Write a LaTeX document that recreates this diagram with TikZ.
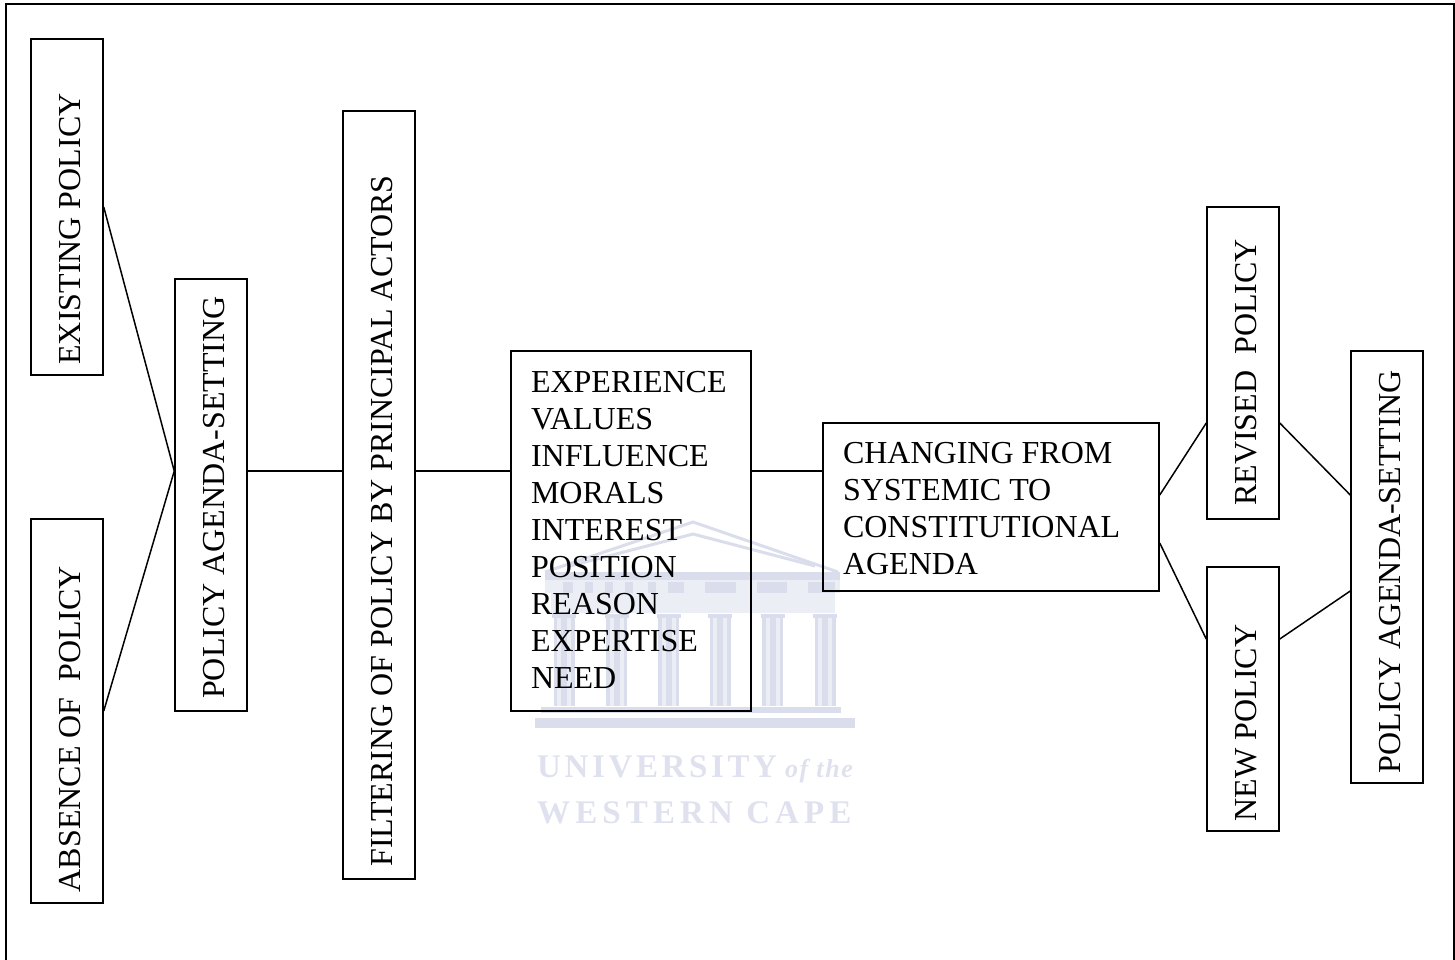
\documentclass[tikz,border=0pt]{standalone}
\usepackage{fontspec}
\usepackage{graphicx}
\setmainfont{Liberation Serif}
\newfontfamily\wmfont[LetterSpace=11]{Liberation Serif}
\newfontfamily\wmfontb[LetterSpace=15.5]{Liberation Serif}
\newfontfamily\wmfontc[LetterSpace=6]{Liberation Serif}
\definecolor{wm}{HTML}{DADDEB}
\definecolor{wmpale}{HTML}{ECEEF5}
\definecolor{wmtext}{HTML}{DFE2EE}
\newcommand{\vtext}[2]{\hspace*{7pt}\rotatebox{90}{#2\hspace*{#1pt}}}
\tikzset{
  box/.style={draw=black,line width=1.5pt,rectangle,inner sep=0pt,font=\fontsize{32}{37}\selectfont},
  link/.style={draw=black,line width=1.5pt},
  frameline/.style={draw=black,line width=2pt},
  wmline/.style={draw=wm,line width=3pt},
  wmlabel/.style={text=wmtext,inner sep=0pt,anchor=base west}
}
\begin{document}
\begin{tikzpicture}[x=1pt,y=-1pt]
\useasboundingbox (0,0) rectangle (1455,959);
% outer frame, cut by the page at the foot
\draw[frameline] (6,960) -- (6,4) -- (1454,4) -- (1454,960);
% watermark: building
\draw[wmline] (545,572) -- (693,522) -- (838,572);
\draw[wmline] (570,566) -- (693,534) -- (815,566);
\fill[wm] (545,572) rectangle (840,580);
\fill[wmpale] (545,580) rectangle (840,593);
\foreach \wx/\ww in {563/10,585/8,605/8,625/8,648/8}{\fill[wm] (\wx,582) rectangle ++(\ww,11);}
\fill[wm] (668,582) rectangle (684,593);
\fill[wm] (705,582) rectangle (736,593);
\fill[wm] (757,582) rectangle (787,593);
\fill[wm] (808,582) rectangle (835,593);
\fill[wmpale] (551,593) rectangle (835,613);
\foreach \wx in {564,616.5,668.5,720,772.5,825}{
  \fill[wm] (\wx-12,614) rectangle (\wx+12,618);
  \fill[wmpale] (\wx-10.5,618) rectangle (\wx+10.5,706);
  \fill[wm] (\wx-10.5,618) rectangle (\wx-7,706);
  \fill[wm] (\wx-3,618) rectangle (\wx+3,706);
  \fill[wm] (\wx+7,618) rectangle (\wx+10.5,706);
}
\fill[wm] (541,707) rectangle (841,713);
\fill[wm] (535,718) rectangle (855,728);
% watermark: text
\node[wmlabel] (wmone) at (537,777) {\fontsize{33}{36}\selectfont\bfseries\wmfont UNIVERSITY};
\node[wmlabel] (wmthe) at (785,777) {\fontsize{26}{30}\selectfont\bfseries\itshape\wmfontc of the};
\node[wmlabel] (wmtwo) at (537,823) {\fontsize{33}{36}\selectfont\bfseries\wmfontb WESTERN CAPE};
% boxes
\node[box,minimum width=72pt,minimum height=336pt] (a) at (67,207) {\vtext{44}{EXISTING POLICY}};
\node[box,minimum width=72pt,minimum height=384pt] (b) at (67,711) {\vtext{36}{ABSENCE OF\ \ POLICY}};
\node[box,minimum width=72pt,minimum height=432pt] (c) at (211,495) {\vtext{5}{POLICY AGENDA-SETTING}};
\node[box,minimum width=72pt,minimum height=768pt] (d) at (379,495) {\vtext{52}{FILTERING OF POLICY BY PRINCIPAL ACTORS}};
\node[box,minimum width=240pt,minimum height=360pt] (e) at (631,531) {\begin{minipage}{200pt}\fontsize{32}{37}\selectfont EXPERIENCE\\VALUES\\INFLUENCE\\MORALS\\INTEREST\\POSITION\\REASON\\EXPERTISE\\NEED\par\vspace*{3pt}\end{minipage}};
\node[box,minimum width=336pt,minimum height=168pt] (f) at (991,507) {\begin{minipage}{296pt}\vspace*{4pt}\fontsize{32}{37}\selectfont CHANGING FROM\\SYSTEMIC TO\\CONSTITUTIONAL\\AGENDA\end{minipage}};
\node[box,minimum width=72pt,minimum height=312pt] (g) at (1243,363) {\vtext{19}{REVISED\ \ POLICY}};
\node[box,minimum width=72pt,minimum height=264pt] (h) at (1243,699) {\vtext{48}{NEW POLICY}};
\node[box,minimum width=72pt,minimum height=432pt] (i) at (1387,567) {\vtext{10}{POLICY AGENDA-SETTING}};
% connectors
\draw[link] (a.east) -- ([yshift=24pt]c.west);
\draw[link] (b.east) -- ([yshift=24pt]c.west);
\draw[link] ([yshift=24pt]c.east) -- ([yshift=24pt]d.west);
\draw[link] ([yshift=24pt]d.east) -- ([yshift=60pt]e.west);
\draw[link] ([yshift=60pt]e.east) -- ([yshift=36pt]f.west);
\draw[link] ([yshift=12pt]f.east) -- ([yshift=-60pt]g.west);
\draw[link] ([yshift=-36pt]f.east) -- ([yshift=60pt]h.west);
\draw[link] ([yshift=-60pt]g.east) -- ([yshift=72pt]i.west);
\draw[link] ([yshift=60pt]h.east) -- ([yshift=-24pt]i.west);
\end{tikzpicture}
\end{document}
